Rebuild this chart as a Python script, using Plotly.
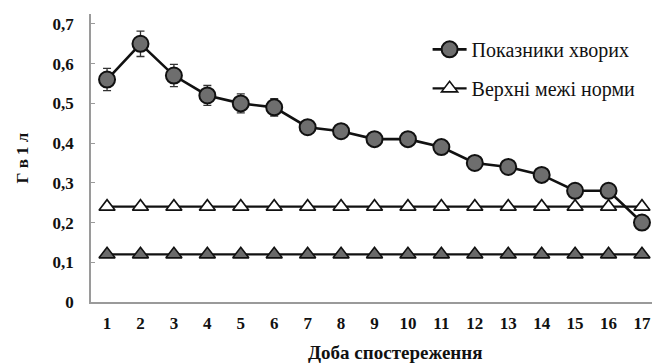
import plotly.graph_objects as go

days = list(range(1, 18))
patients = [0.56, 0.65, 0.57, 0.52, 0.50, 0.49, 0.44, 0.43, 0.41, 0.41,
            0.39, 0.35, 0.34, 0.32, 0.28, 0.28, 0.20]
patients_err = [0.028, 0.032, 0.028, 0.025, 0.024, 0.022, 0.018, 0.015, 0.012, 0.012,
                0.011, 0.010, 0.010, 0.010, 0.009, 0.009, 0.008]
upper_norm = [0.24] * 17
lower_norm = [0.12] * 17

y_ticks = [0, 0.1, 0.2, 0.3, 0.4, 0.5, 0.6, 0.7]
y_tick_text = ["0", "0,1", "0,2", "0,3", "0,4", "0,5", "0,6", "0,7"]
x_title = "Доба спостереження"

FONT = "Liberation Serif"
INK = "#111111"

fig = go.Figure()

fig.add_trace(go.Scatter(
    x=days, y=lower_norm, mode="lines+markers", name="Нижні межі норми",
    showlegend=False,
    line=dict(color=INK, width=2.2),
    marker=dict(symbol="triangle-up", size=14, color="#6a6a6a",
                line=dict(color=INK, width=1.6)),
))

fig.add_trace(go.Scatter(
    x=days, y=upper_norm, mode="lines+markers", name="Верхні межі норми",
    legendgroup="upper", legendrank=2,
    line=dict(color=INK, width=2.2),
    marker=dict(symbol="triangle-up", size=14, color="white",
                line=dict(color=INK, width=1.6)),
))

fig.add_trace(go.Scatter(
    x=days, y=patients, mode="lines+markers", name="Показники хворих",
    legendgroup="patients", legendrank=1,
    line=dict(color=INK, width=2.6),
    marker=dict(symbol="circle", size=16, color="#6e6e6e",
                line=dict(color=INK, width=2)),
    error_y=dict(type="data", array=patients_err, visible=True,
                 color="#333333", thickness=1.3, width=4),
))

# x-axis caption placed as an annotation so it can sit right of the plot centre
fig.add_annotation(
    text=x_title, xref="paper", yref="paper",
    x=0.542, y=-0.177, xanchor="center", yanchor="middle",
    showarrow=False,
    font=dict(family=FONT, size=19, color=INK, weight="bold"),
)

fig.update_layout(
    width=652, height=363,
    margin=dict(l=91, r=0, t=14, b=61),
    paper_bgcolor="white", plot_bgcolor="white",
    font=dict(family=FONT, size=17, color=INK),
    showlegend=True,
    legend=dict(
        x=0.6, y=0.945, xanchor="left", yanchor="top",
        traceorder="grouped", tracegroupgap=10,
        font=dict(family=FONT, size=20, color=INK),
        bgcolor="rgba(0,0,0,0)", itemwidth=34,
    ),
    xaxis=dict(
        range=[0.52, 17.3], tickmode="array", tickvals=days,
        ticktext=[str(d) for d in days],
        showgrid=False, zeroline=False,
        showline=True, linecolor="#9a9a9a", linewidth=1.5,
        ticks="", ticklabelstandoff=5,
        tickfont=dict(family=FONT, size=17, color=INK, weight="bold"),
    ),
    yaxis=dict(
        range=[0, 0.725], tickmode="array", tickvals=y_ticks,
        ticktext=y_tick_text,
        showgrid=False, zeroline=False,
        showline=True, linecolor="#9a9a9a", linewidth=1.5,
        ticks="inside", ticklen=4, tickcolor="#9a9a9a",
        ticklabelstandoff=12,
        tickfont=dict(family=FONT, size=17, color=INK, weight="bold"),
        title=dict(text="Г в 1 л", standoff=20,
                   font=dict(family=FONT, size=17, color=INK, weight="bold")),
    ),
)

fig.write_html("out.html")
